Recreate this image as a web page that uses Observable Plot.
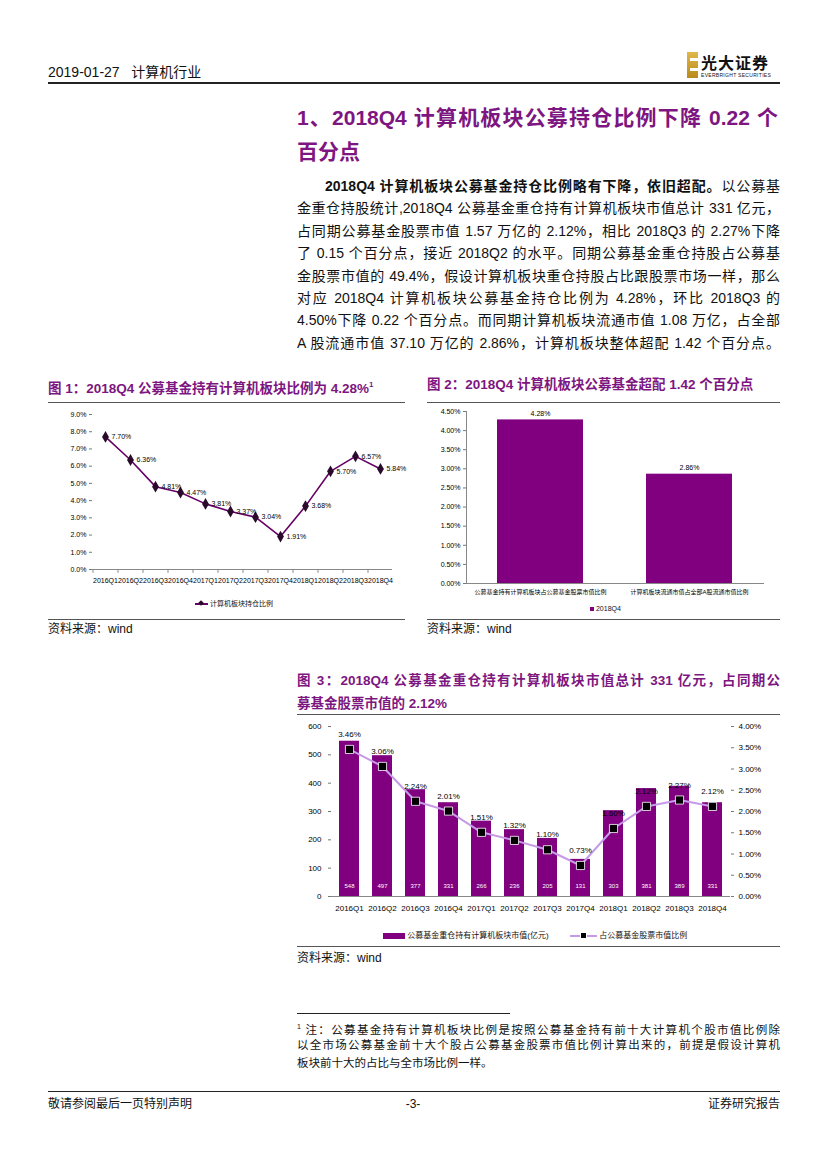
<!DOCTYPE html>
<html><head><meta charset="utf-8">
<script src="https://cdn.jsdelivr.net/npm/d3@7"></script>
<script src="https://cdn.jsdelivr.net/npm/@observablehq/plot@0.6"></script>
<style>
body{margin:0;background:#fff;}
#page{position:relative;width:827px;height:1169px;overflow:hidden;font-family:"Liberation Sans",Arial,"Noto Sans CJK SC",sans-serif;color:#111;}
.abs{position:absolute;white-space:nowrap;}
.hl{position:absolute;height:0;border-top:1px solid #333;}
.jl{position:absolute;text-align:justify;text-align-last:justify;overflow:visible;}
.purple{color:#7d1680;font-weight:bold;}
.chart{position:absolute;}
.chart svg{overflow:visible;}
</style></head>
<body><div id="page">
<!-- header -->
<div class="abs" style="left:48px;top:62px;font-size:14px;line-height:20px;">2019-01-27&nbsp;&nbsp;&nbsp;计算机行业</div>
<div class="abs" style="left:687px;top:52px;width:11px;height:26px;background:linear-gradient(#e0b84a,#b98a1c);"></div>
<div class="abs" style="left:690px;top:58px;width:8px;height:3px;background:#fff;"></div>
<div class="abs" style="left:690px;top:68px;width:8px;height:3px;background:#fff;"></div>
<div class="abs" style="left:701px;top:52px;font-size:16px;font-weight:bold;line-height:20px;letter-spacing:1px;font-family:'Noto Sans CJK SC',sans-serif;">光大证券</div>
<div class="abs" style="left:701px;top:72px;font-size:5px;line-height:6px;letter-spacing:0.3px;">EVERBRIGHT SECURITIES</div>
<div class="hl" style="left:48px;top:82px;width:732px;border-top:2px solid #222;"></div>

<!-- heading -->
<div class="jl purple" style="left:297px;top:104px;width:481px;font-size:21px;line-height:28px;">1、2018Q4 计算机板块公募持仓比例下降 0.22 个</div>
<div class="abs purple" style="left:297px;top:138px;font-size:21px;line-height:28px;">百分点</div>

<!-- body -->
<div id="body"></div>

<!-- figure titles -->
<div class="abs purple" style="left:48px;top:375px;font-size:13.5px;line-height:20px;">图 1：2018Q4 公募基金持有计算机板块比例为 4.28%<sup style="font-size:8px;">1</sup></div>
<div class="abs purple" style="left:427px;top:375px;font-size:13.5px;line-height:20px;">图 2：2018Q4 计算机板块公募基金超配 1.42 个百分点</div>
<div class="hl" style="left:48px;top:402px;width:357px;border-top:1px solid #555;"></div>
<div class="hl" style="left:427px;top:402px;width:353px;border-top:1px solid #555;"></div>
<div class="hl" style="left:48px;top:619px;width:357px;border-top:1px solid #555;"></div>
<div class="hl" style="left:427px;top:619px;width:353px;border-top:1px solid #555;"></div>
<div class="abs" style="left:48px;top:621px;font-size:12px;line-height:16px;">资料来源：wind</div>
<div class="abs" style="left:427px;top:621px;font-size:12px;line-height:16px;">资料来源：wind</div>

<div class="jl purple" style="left:297px;top:671px;width:483px;font-size:13.5px;line-height:20px;">图 3：2018Q4 公募基金重仓持有计算机板块市值总计 331 亿元，占同期公</div>
<div class="abs purple" style="left:297px;top:694px;font-size:13.5px;line-height:20px;">募基金股票市值的 2.12%</div>
<div class="hl" style="left:297px;top:714px;width:483px;border-top:1px solid #555;"></div>
<div class="hl" style="left:297px;top:946px;width:483px;border-top:1px solid #555;"></div>
<div class="abs" style="left:297px;top:950px;font-size:12px;line-height:16px;">资料来源：wind</div>

<div id="c1" class="chart" style="left:48px;top:402px;"></div>
<div id="c2" class="chart" style="left:427px;top:402px;"></div>
<div id="c3" class="chart" style="left:297px;top:715px;"></div>

<!-- legends -->
<div class="abs" style="left:195px;top:599px;font-size:7px;line-height:10px;">
  <span style="display:inline-block;width:13px;height:2px;background:#660066;vertical-align:middle;position:relative;"><span style="position:absolute;left:4px;top:-2px;width:4px;height:4px;background:#2a0a2a;transform:rotate(45deg);"></span></span>
  <span style="vertical-align:middle;">计算机板块持仓比例</span></div>
<div class="abs" style="left:590px;top:604px;font-size:7px;line-height:10px;">
  <span style="display:inline-block;width:4px;height:4px;background:#800080;vertical-align:middle;"></span>
  <span style="vertical-align:middle;">2018Q4</span></div>
<div class="abs" style="left:383px;top:930px;font-size:8px;line-height:11px;">
  <span style="display:inline-block;width:22px;height:6px;background:#800080;vertical-align:middle;"></span>
  <span style="vertical-align:middle;">公募基金重仓持有计算机板块市值(亿元)</span></div>
<div class="abs" style="left:570px;top:930px;font-size:8px;line-height:11px;">
  <span style="display:inline-block;width:27px;height:2px;background:#c69ae6;vertical-align:middle;position:relative;"><span style="position:absolute;left:10px;top:-3px;width:7px;height:7px;background:#000;border:1px solid #fff;box-sizing:border-box;"></span></span>
  <span style="vertical-align:middle;">占公募基金股票市值比例</span></div>

<!-- footnote -->
<div class="hl" style="left:297px;top:1013px;width:213px;border-top:1px solid #222;"></div>
<div class="jl" style="left:297px;top:1019px;width:483px;font-size:11.5px;line-height:16px;"><sup style="font-size:7px;">1</sup> 注：公募基金持有计算机板块比例是按照公募基金持有前十大计算机个股市值比例除</div>
<div class="jl" style="left:297px;top:1037px;width:483px;font-size:11.5px;line-height:16px;">以全市场公募基金前十大个股占公募基金股票市值比例计算出来的，前提是假设计算机</div>
<div class="abs" style="left:297px;top:1055px;font-size:11.5px;line-height:16px;">板块前十大的占比与全市场比例一样。</div>

<!-- footer -->
<div class="hl" style="left:48px;top:1091px;width:732px;border-top:1.5px solid #222;"></div>
<div class="abs" style="left:48px;top:1096px;font-size:12px;line-height:16px;">敬请参阅最后一页特别声明</div>
<div class="abs" style="left:400px;top:1096px;width:26px;text-align:center;font-size:12px;line-height:16px;">-3-</div>
<div class="abs" style="left:700px;top:1096px;width:80px;text-align:right;font-size:12px;line-height:16px;">证券研究报告</div>
</div>
<script>
// ---------- data ----------
const quarters = ["2016Q1","2016Q2","2016Q3","2016Q4","2017Q1","2017Q2","2017Q3","2017Q4","2018Q1","2018Q2","2018Q3","2018Q4"];
// Fig 1: fund holding ratio of computer sector (%)
const holdRatio = [7.70, 6.36, 4.81, 4.47, 3.81, 3.37, 3.04, 1.91, 3.68, 5.70, 6.57, 5.84];
const fig1YTicks = [0,1,2,3,4,5,6,7,8,9];
// Fig 2
const fig2Cats = ["公募基金持有计算机板块占公募基金股票市值比例", "计算机板块流通市值占全部A股流通市值比例"];
const fig2Vals = [4.28, 2.86];
const fig2Series = "2018Q4";
const fig2YTicks = [0,0.5,1,1.5,2,2.5,3,3.5,4,4.5];
// Fig 3
const fundValue = [548, 497, 377, 331, 266, 236, 205, 131, 303, 381, 389, 331];   // 亿元
const fundShare = [3.46, 3.06, 2.24, 2.01, 1.51, 1.32, 1.10, 0.73, 1.60, 2.12, 2.27, 2.12]; // %
const fig3LeftTicks = [0,100,200,300,400,500,600];
const fig3RightTicks = [0,0.5,1,1.5,2,2.5,3,3.5,4];

// ---------- body text ----------
const bodyLines = [
  ['<b>2018Q4 计算机板块公募基金持仓比例略有下降，依旧超配。</b>以公募基', true],
  ['金重仓持股统计,2018Q4 公募基金重仓持有计算机板块市值总计 331 亿元，', false],
  ['占同期公募基金股票市值 1.57 万亿的 2.12%，相比 2018Q3 的 2.27%下降', false],
  ['了 0.15 个百分点，接近 2018Q2 的水平。同期公募基金重仓持股占公募基', false],
  ['金股票市值的 49.4%，假设计算机板块重仓持股占比跟股票市场一样，那么', false],
  ['对应 2018Q4 计算机板块公募基金持仓比例为 4.28%，环比 2018Q3 的', false],
  ['4.50%下降 0.22 个百分点。而同期计算机板块流通市值 1.08 万亿，占全部', false],
  ['A 股流通市值 37.10 万亿的 2.86%，计算机板块整体超配 1.42 个百分点。', false]
];
const bodyEl = document.getElementById("body");
bodyLines.forEach(([t, indent], i) => {
  const d = document.createElement("div");
  d.className = "jl";
  const top = 176 + i * 22.4;
  d.style.cssText = `left:${indent ? 325 : 297}px;top:${top}px;width:${indent ? 455 : 483}px;font-size:14px;line-height:20px;color:#111;`;
  d.innerHTML = t;
  bodyEl.appendChild(d);
});

const FONT = "Liberation Sans, Arial, Noto Sans CJK SC, sans-serif";

// ---------- Fig 1 ----------
const d1 = quarters.map((q, i) => ({q, v: holdRatio[i]}));
const c1 = Plot.plot({
  width: 357, height: 197,
  marginLeft: 44, marginRight: 13, marginTop: 12, marginBottom: 30,
  style: {fontFamily: FONT, fontSize: "7px", background: "transparent", color: "#000"},
  x: {type: "point", domain: quarters, padding: 0.5, axis: null},
  y: {domain: [0, 9], axis: null},
  marks: [
    Plot.axisY({ticks: fig1YTicks, tickFormat: d => d.toFixed(1) + "%", tickSize: 3, tickPadding: 3, fontSize: 7, stroke: "#777", label: null}),
    Plot.axisX({tickSize: 0, tickPadding: 9, fontSize: 7, label: null}),
    Plot.ruleY([0], {stroke: "#888"}),
    Plot.ruleX(quarters, {x: d => d, dx: -12.5, y1: 0, y2: -0.22, stroke: "#888"}),
    Plot.line(d1, {x: "q", y: "v", stroke: "#660066", strokeWidth: 1.6}),
    Plot.dot(d1, {x: "q", y: "v", symbol: "diamond", r: 3.6, fill: "#2a0a2a"}),
    Plot.text(d1, {x: "q", y: "v", text: d => d.v.toFixed(2) + "%", dx: 6, textAnchor: "start", fontSize: 7, fill: "#000"})
  ]
});
document.getElementById("c1").appendChild(c1);

// ---------- Fig 2 ----------
const d2 = fig2Cats.map((c, i) => ({c, v: fig2Vals[i]}));
const c2 = Plot.plot({
  width: 353, height: 200,
  marginLeft: 39, marginRight: 16, marginTop: 9, marginBottom: 19,
  style: {fontFamily: FONT, fontSize: "7px", background: "transparent", color: "#000"},
  x: {domain: fig2Cats, paddingInner: 0.42, paddingOuter: 0.21, axis: null},
  y: {domain: [0, 4.5], axis: null},
  marks: [
    Plot.axisY({ticks: fig2YTicks, tickFormat: d => d.toFixed(2) + "%", tickSize: 3, tickPadding: 3, fontSize: 7, stroke: "#777", label: null}),
    Plot.frame({anchor: "left", stroke: "#888"}),
    Plot.barY(d2, {x: "c", y: "v", fill: "#800080"}),
    Plot.ruleY([0], {stroke: "#888"}),
    Plot.text(d2, {x: "c", y: "v", text: d => d.v.toFixed(2) + "%", dy: -6, fontSize: 7, fill: "#000"}),
    Plot.axisX({tickSize: 0, tickPadding: 6, fontSize: 6, label: null})
  ]
});
document.getElementById("c2").appendChild(c2);

// ---------- Fig 3 ----------
const k = 600 / 4; // right axis 4.00% ↔ left 600
const d3d = quarters.map((q, i) => ({q, v: fundValue[i], p: fundShare[i]}));
const c3 = Plot.plot({
  width: 483, height: 203,
  marginLeft: 34, marginRight: 50, marginTop: 11, marginBottom: 22,
  style: {fontFamily: FONT, fontSize: "8px", background: "transparent", color: "#000"},
  x: {domain: quarters, paddingInner: 0.4, paddingOuter: 0.2, axis: null},
  y: {domain: [0, 600], axis: null},
  marks: [
    Plot.axisY({ticks: fig3LeftTicks, tickSize: 3, tickPadding: 7, fontSize: 8, stroke: "#777", label: null}),
    Plot.axisY({anchor: "right", ticks: fig3RightTicks.map(d => d * k), tickFormat: d => (d / k).toFixed(2) + "%", tickSize: 3, tickPadding: 5, fontSize: 8, stroke: "#777", label: null}),
    Plot.barY(d3d, {x: "q", y: "v", fill: "#800080"}),
    Plot.ruleY([0], {stroke: "#888"}),
    Plot.text(d3d, {x: "q", y: 0, text: d => String(d.v), dy: -10, fontSize: 6, fill: "#fff"}),
    Plot.line(d3d, {x: "q", y: d => d.p * k, stroke: "#c69ae6", strokeWidth: 2}),
    Plot.dot(d3d, {x: "q", y: d => d.p * k, symbol: "square", r: 4.6, fill: "#000", stroke: "#fff", strokeWidth: 0.8}),
    Plot.text(d3d, {x: "q", y: d => d.p * k, text: d => d.p.toFixed(2) + "%", dy: -15, fontSize: 8, fill: "#000"}),
    Plot.axisX({tickSize: 0, tickPadding: 9, fontSize: 8, label: null})
  ]
});
document.getElementById("c3").appendChild(c3);
</script>
</body></html>
